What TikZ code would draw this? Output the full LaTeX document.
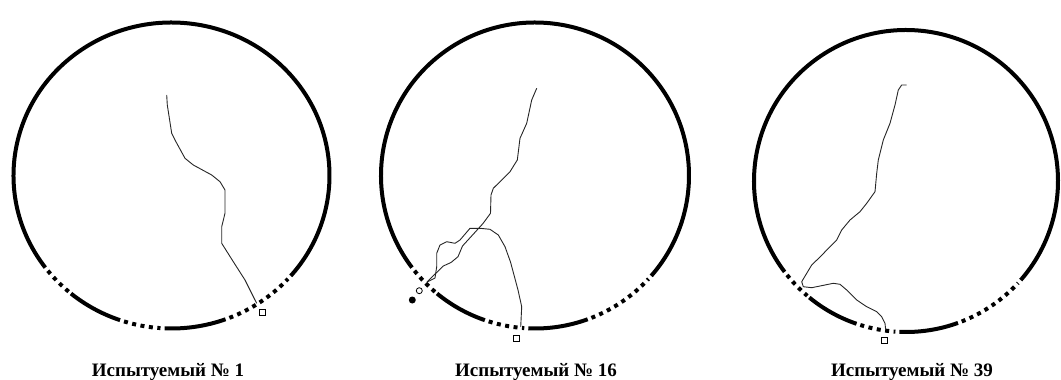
\documentclass[tikz,border=0pt]{standalone}
\usepackage{fontspec}
\setmainfont{Liberation Serif}
\tikzset{
    rim/.style={
        line width=4pt
    },
    rimdots/.style={
        line width=4pt,
        dash pattern=on 4pt off 4.5pt
    },
    track/.style={
        line width=0.9pt,
        black!85,
        line join=round
    },
    startbox/.style={
        draw,
        fill=white,
        line width=0.8pt,
        minimum size=6pt,
        inner sep=0pt
    },
    ring/.style={
        draw,
        circle,
        fill=white,
        line width=0.8pt,
        minimum size=6pt,
        inner sep=0pt
    },
    blob/.style={
        circle,
        fill=black,
        minimum size=7pt,
        inner sep=0pt
    },
    caption/.style={
        font=\fontsize{19}{22}\selectfont\bfseries,
        anchor=base
    }
}
\begin{document}
\begin{tikzpicture}[x=1pt, y=-1pt]
\useasboundingbox (0,0) rectangle (1061,380);

% arenas: solid rim, dotted gaps near the bottom
\foreach \n/\cx/\cy/\rx/\ry in {1/171.5/175.5/158/153,
                                 2/535/175.5/154/153,
                                 3/906/181/152/151}{
    \coordinate (a\n) at (\cx,\cy);
    \draw[rim] (a\n) ++(143:{\rx} and {\ry})
        arc[start angle=143, end angle=401, x radius=\rx, y radius=\ry];
    \draw[rim] (a\n) ++(109:{\rx} and {\ry})
        arc[start angle=109, end angle=129.5, x radius=\rx, y radius=\ry];
    \draw[rim] (a\n) ++(70:{\rx} and {\ry})
        arc[start angle=70, end angle=92.5, x radius=\rx, y radius=\ry];
    \draw[rimdots] (a\n) ++(141.5:{\rx} and {\ry})
        arc[start angle=141.5, end angle=130.5, x radius=\rx, y radius=\ry];
    \draw[rimdots] (a\n) ++(107.5:{\rx} and {\ry})
        arc[start angle=107.5, end angle=94, x radius=\rx, y radius=\ry];
    \draw[rimdots] (a\n) ++(68.5:{\rx} and {\ry})
        arc[start angle=68.5, end angle=42.5, x radius=\rx, y radius=\ry];
}

% start markers
\node[startbox] (s1) at (262.5,312) {};
\node[startbox] (s2) at (516,338.3) {};
\node[startbox] (s3) at (884.3,340) {};
\node[ring] (o2) at (419.3,290.7) {};
\node[blob] (f2) at (412.3,300) {};

% tracks
\draw[track] (166.7,95) -- (167.3,105) -- (171.7,133.3) -- (175,140)
    -- (185,158.3) -- (193.3,165) -- (211.7,175) -- (220,181.7)
    -- (225,190) -- (225,213.3) -- (221.7,226.7) -- (221.7,243.3)
    -- (233.3,261.7) -- (245,280) -- (255,300) -- (256.7,303.3);

\coordinate (m2) at (427,282);
\draw[track] (536.7,88.3) -- (531.7,100) -- (526.7,123.3) -- (520,138.3)
    -- (517.3,160) -- (510,171.7) -- (501.7,180) -- (493.3,188.3)
    -- (491,195) -- (490.5,213.3) -- (483,223.5) -- (473,234.5)
    -- (462.5,246) -- (458,256.7) -- (451,262.5) -- (443.3,266)
    -- (431.5,277.5) -- (m2);
\draw[track] (m2) -- (435,278) -- (436.7,266.7) -- (436.7,253.3)
    -- (440,245) -- (446.7,241.7) -- (455,243.3) -- (460,240)
    -- (470,228.3) -- (480,228.3) -- (490,229.3) -- (498.3,235)
    -- (505,246.7) -- (510.5,262) -- (514,275) -- (518,290)
    -- (521.7,306.7) -- (520.7,327);

\draw[track] (906.7,85) -- (901.7,85) -- (898.3,90) -- (895,105)
    -- (890,123.3) -- (883.3,140) -- (878.3,160) -- (876.7,173.3)
    -- (875,191.7) -- (866.7,203.3) -- (860,211.7) -- (850,220)
    -- (841.7,230) -- (836.7,240) -- (830,246.7) -- (820,257)
    -- (811.7,265) -- (806.7,273.3) -- (801.7,281.7) -- (803.3,286.7)
    -- (811.7,287.7) -- (833.3,283.3) -- (840,284.3) -- (846.7,290)
    -- (856.7,300) -- (866.7,306.7) -- (876.7,311.7) -- (881.7,316.7)
    -- (885,323.3) -- (885.7,330);

% captions
\node[caption] (t1) at (168,376.5) {Испытуемый № 1};
\node[caption] (t2) at (536,376.5) {Испытуемый № 16};
\node[caption] (t3) at (912,376.5) {Испытуемый № 39};

\end{tikzpicture}
\end{document}
